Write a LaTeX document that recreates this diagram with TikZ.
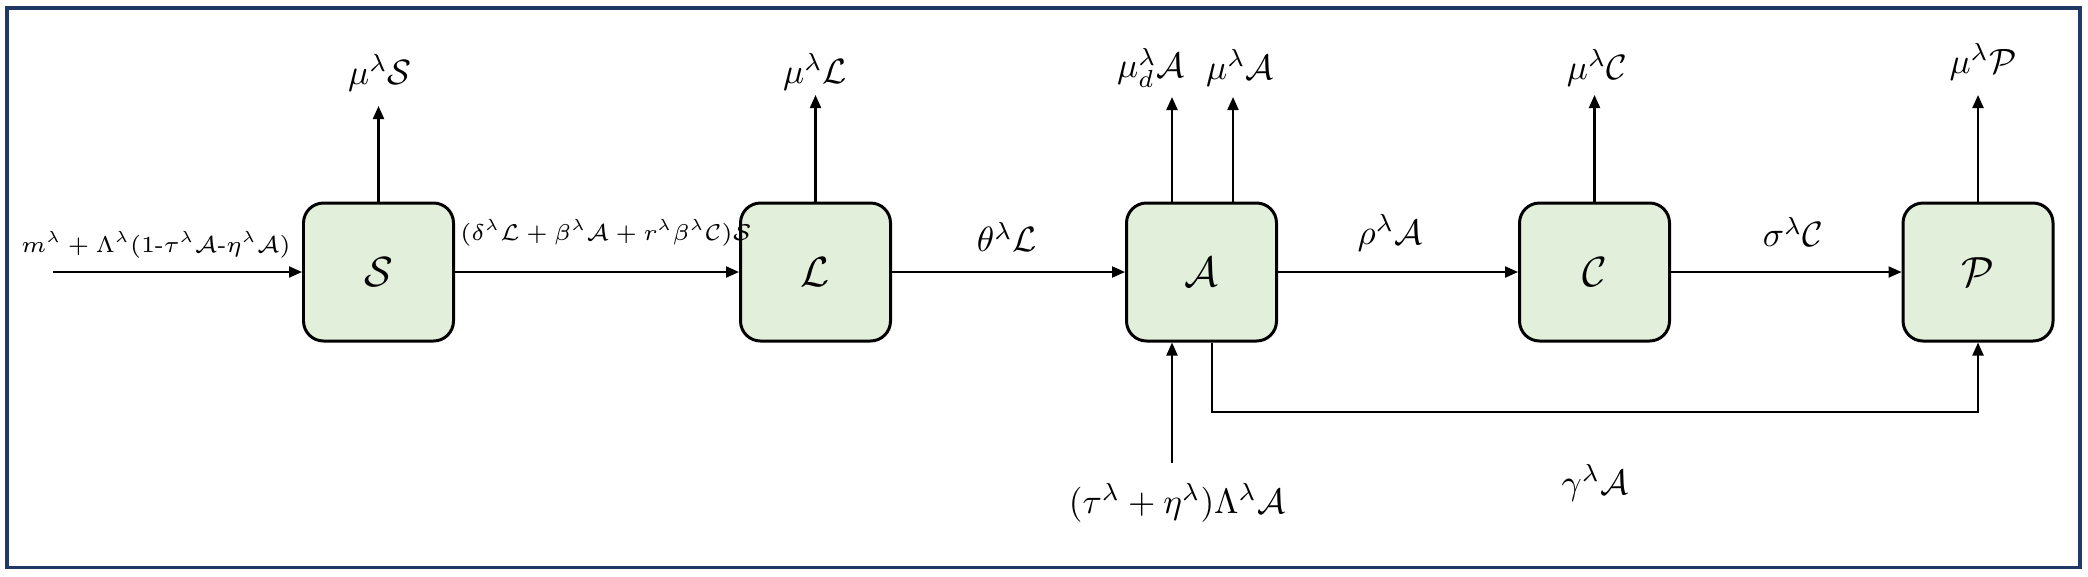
\RequirePackage{fix-cm}
\documentclass[tikz,border=0pt]{standalone}
\usepackage{amsmath,amssymb}
\usetikzlibrary{arrows.meta}

\definecolor{boxgreen}{HTML}{E2EFDA}
\definecolor{framenavy}{HTML}{203864}

\begin{document}
\begin{tikzpicture}[
    compartment/.style={draw, line width=0.85pt, rounded corners=0.2cm, fill=boxgreen,
      minimum width=1.50cm, minimum height=1.38cm, inner sep=0pt, font=\large},
    flow/.style={line width=0.6pt, -{Triangle[length=0.13cm,width=0.11cm]}},
    rate/.style={inner sep=0pt},
    longrate/.style={inner sep=0pt, font=\fontsize{6.5}{8}\selectfont}
  ]

            \useasboundingbox (0,0) rectangle (20.88,5.76);
            \draw[framenavy, line width=1pt] (0.07,0.085) rectangle (20.80,5.68);

            \node[compartment] (S) at (3.785,3.04) {$\mathcal{S}$};
            \node[compartment] (L) at (8.155,3.04) {$\mathcal{L}$};
            \node[compartment] (A) at (12.015,3.04) {$\mathcal{A}$};
            \node[compartment] (C) at (15.945,3.04) {$\mathcal{C}$};
            \node[compartment] (P) at (19.78,3.04) {$\mathcal{P}$};

            \coordinate (src) at (0.53,3.04);
            \draw[flow] (src) -- (S);
            \draw[flow] (S) -- (L);
            \draw[flow] (L) -- (A);
            \draw[flow] (A) -- (C);
            \draw[flow] (C) -- (P);

            \coordinate (outS) at (3.79,4.70);
            \coordinate (outL) at (8.15,4.81);
            \coordinate (outAd) at (11.72,4.79);
            \coordinate (outA) at (12.33,4.79);
            \coordinate (outC) at (15.95,4.81);
            \coordinate (outP) at (19.79,4.81);

            \foreach \b in {S,L,C,P}{
              \draw[flow] (\b.north) -- (\b.north |- out\b);
            }
            \foreach \c in {outAd,outA}{
              \draw[flow] (\c |- A.north) -- (\c);
            }

            \coordinate (inA) at (11.72,1.13);
            \draw[flow] (inA) -- (inA |- A.south);

            \coordinate (gA) at (12.12,1.64);
            \draw[flow] (gA |- A.south) -- (gA) -| (P.south);

            \node[rate] (muS) at (3.80,5.03) {$\mu^\lambda\mathcal{S}$};
            \node[rate] (muL) at (8.15,5.04) {$\mu^\lambda\mathcal{L}$};
            \node[rate] (muAd) at (11.51,5.08) {$\mu_d^\lambda\mathcal{A}$};
            \node[rate] (muA) at (12.40,5.08) {$\mu^\lambda\mathcal{A}$};
            \node[rate] (muC) at (15.97,5.08) {$\mu^\lambda\mathcal{C}$};
            \node[rate] (muP) at (19.83,5.14) {$\mu^\lambda\mathcal{P}$};

            \node[longrate] (recruit) at (1.56,3.31) {$m^\lambda + \Lambda^\lambda(1\text{-}\tau^\lambda\mathcal{A}\text{-}\eta^\lambda\mathcal{A})$};
            \node[longrate] (infect) at (6.06,3.43) {$(\delta^\lambda\mathcal{L}+\beta^\lambda\mathcal{A}+r^\lambda\beta^\lambda\mathcal{C})\mathcal{S}$};
            \node[rate] (thetaL) at (10.07,3.39) {$\theta^\lambda\mathcal{L}$};
            \node[rate] (rhoA) at (13.90,3.43) {$\rho^\lambda\mathcal{A}$};
            \node[rate] (sigmaC) at (17.93,3.44) {$\sigma^\lambda\mathcal{C}$};

            \node[rate] (importA) at (11.77,0.73) {$(\tau^\lambda+\eta^\lambda)\Lambda^\lambda\mathcal{A}$};
            \node[rate] (gammaA) at (15.95,0.93) {$\gamma^\lambda\mathcal{A}$};

\end{tikzpicture}
\end{document}
